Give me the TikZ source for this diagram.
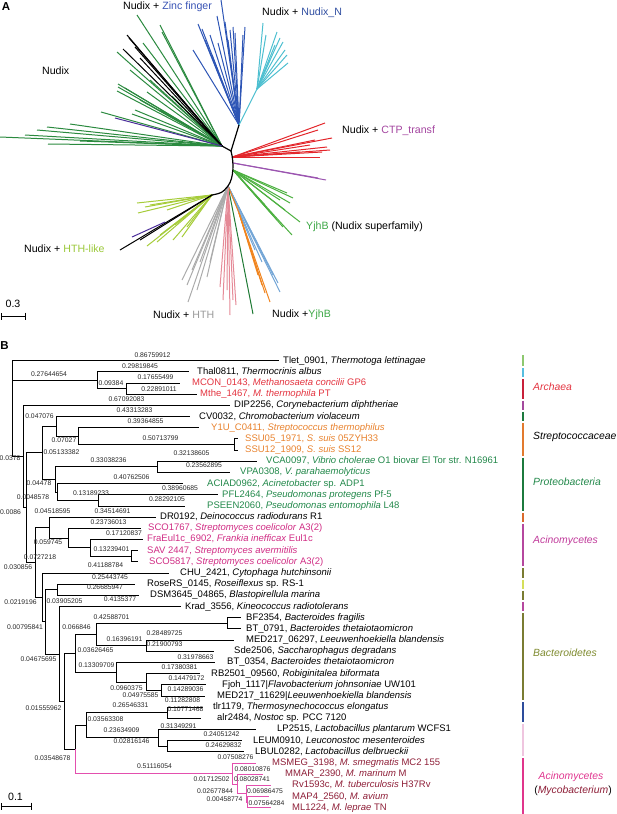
\documentclass[tikz,border=0pt]{standalone}
\usepackage{fontspec}
\setmainfont{Liberation Sans}
\usetikzlibrary{arrows.meta}

% panel A colours
\definecolor{nudgreen}{HTML}{2B8A3F}
\definecolor{zincblue}{HTML}{2D55B5}
\definecolor{nncyan}{HTML}{4DBFD0}
\definecolor{ctpred}{HTML}{E3262B}
\definecolor{ctpviolet}{HTML}{9B55B0}
\definecolor{yjhgreen}{HTML}{4CB040}
\definecolor{steelb}{HTML}{74A6D6}
\definecolor{hthor}{HTML}{F0841E}
\definecolor{hthpink}{HTML}{E58A97}
\definecolor{hthgray}{HTML}{ABABAB}
\definecolor{hthlime}{HTML}{A6CC3A}
\definecolor{hthdkgreen}{HTML}{1E7A34}
\definecolor{darkviol}{HTML}{4B2D9A}
\definecolor{zinctext}{HTML}{3752B4}
\definecolor{nntext}{HTML}{2F4DA0}
\definecolor{ctptext}{HTML}{A3449F}
\definecolor{yjhtext}{HTML}{3DA846}
\definecolor{limetext}{HTML}{9BC83A}
\definecolor{graytext}{HTML}{9A9A9A}
% panel B colours
\definecolor{archred}{HTML}{E3333F}
\definecolor{strepor}{HTML}{E8822E}
\definecolor{protgr}{HTML}{22884A}
\definecolor{acimag}{HTML}{D02C84}
\definecolor{mycored}{HTML}{8E1F38}
\definecolor{mycopink}{HTML}{E34FAE}
\definecolor{tletgreen}{HTML}{8DC86F}
\definecolor{thalblue}{HTML}{56BEE0}
\definecolor{archbar}{HTML}{C8203A}
\definecolor{dipviolet}{HTML}{A3499D}
\definecolor{protbar}{HTML}{1C7A3E}
\definecolor{strepbar}{HTML}{E27A2E}
\definecolor{drbar}{HTML}{DA6A2C}
\definecolor{acinobar}{HTML}{B5479E}
\definecolor{olivebar}{HTML}{7A7C32}
\definecolor{rosebar}{HTML}{D5DF5A}
\definecolor{tlrbar}{HTML}{2D4C9C}
\definecolor{lactobar}{HTML}{EFC5DF}
\definecolor{mycobar}{HTML}{E0358B}
\definecolor{bactolive}{HTML}{7E8A2E}
\definecolor{acinotext}{HTML}{C0399A}
\definecolor{mycotext}{HTML}{E0358F}

\begin{document}
\begin{tikzpicture}[x = 1pt, y = -1pt]

\tikzset{
  branch/.style = {line width = 0.9pt, draw = black},
  mycobranch/.style = {line width = 0.9pt, draw = mycopink},
  fan/.style = {line width = 1pt},
  spine/.style = {line width = 1.2pt, draw = black},
  blen/.style = {font = \fontsize{6.8}{7}\selectfont, inner sep = 0pt, text = black!85},
  leaf/.style = {font = \fontsize{9.5}{10}\selectfont, anchor = west, inner sep = 0pt, text height = 6.8pt, text depth = 1.9pt},
  group/.style = {font = \fontsize{10.4}{11}\selectfont\itshape, anchor = west, inner sep = 0pt},
  clade/.style = {font = \fontsize{10.6}{12}\selectfont, anchor = west, inner sep = 0pt},
  panel/.style = {font = \fontsize{11.5}{12}\selectfont\bfseries, inner sep = 0pt},
  cladebar/.style = {line width = 2.6pt},
  scalebar/.style = {line width = 1pt, {Bar[width = 7pt]}-{Bar[width = 7pt]}},
}

\useasboundingbox (0,0) rectangle (617,814);

% Panel A
\node[panel] (panelA) at (6,7) {A};

\coordinate (hubN) at (222,146);
\coordinate (hubC) at (231,151);
\coordinate (hubZ) at (239,125);
\coordinate (hubNN) at (257,89);
\coordinate (hubR) at (232.5,157);
\coordinate (hubV) at (233,163);
\coordinate (hubY) at (233,170);
\coordinate (hubS) at (228,186);
\coordinate (hubO) at (239,213);
\coordinate (hubL) at (212,195);

\foreach \x/\y in {0/137, 25/135, 37/130, 47/127, 70/124, 48/144, 80/141, 101/112, 118/87, 117/91, 147/92, 135/110, 132/114, 137/15, 160/25, 162/32, 143/43, 117/52, 130/70, 150/80, 140/100, 160/110, 172/96, 118/84, 125/88}
  \draw[fan, nudgreen] (hubN) -- (\x,\y);
\foreach \x/\y in {127/35, 123/49, 129/38, 140/58, 135/47}
  \draw[fan, black] (hubN) -- (\x,\y);
\draw[fan, darkviol] (hubN) -- (115,118);
\foreach \x/\y in {221/0, 217/16, 198/24, 202/29, 193/50, 233/27, 245/27, 235/33, 218/43, 210/35, 225/22, 228/40, 205/40, 212/55, 243/35, 230/30}
  \draw[fan, zincblue] (hubZ) -- (\x,\y);
\draw[fan, nncyan] (hubZ) -- (hubNN);
\foreach \x/\y in {263/23, 277/32, 280/38, 283/42, 287/55, 288/63, 275/45, 270/60, 285/50, 266/35}
  \draw[fan, nncyan] (hubNN) -- (\x,\y);
\foreach \x/\y in {325/123, 332/138, 327/147, 320/157, 300/152, 315/140, 330/150, 318/130, 310/145, 322/152}
  \draw[fan, ctpred] (hubR) -- (\x,\y);
\foreach \x/\y in {326/180, 318/178}
  \draw[fan, ctpviolet] (hubV) -- (\x,\y);
\foreach \x/\y in {287/193, 293/198, 290/203, 292/235, 283/227, 277/220, 300/222, 285/210, 270/212, 280/200, 265/205}
  \draw[fan, yjhgreen] (hubY) -- (\x,\y);
\foreach \x/\y in {280/292, 278/283, 273/275, 268/265, 262/262, 255/250}
  \draw[fan, steelb] (hubS) -- (\x,\y);
\draw[fan, hthor] (hubS) -- (hubO);
\foreach \x/\y in {270/302, 265/293, 262/285, 258/275}
  \draw[fan, hthor] (hubO) -- (\x,\y);
\draw[fan, hthdkgreen] (hubS) -- (253,314);
\foreach \x/\y in {230/315, 223/300, 233/300, 236/305, 227/290, 220/287}
  \draw[fan, hthpink] (hubS) -- (\x,\y);
\foreach \x/\y in {182/280, 187/285, 188/302, 197/290, 207/277, 210/262, 200/262, 192/270}
  \draw[fan, hthgray] (hubS) -- (\x,\y);
\foreach \x/\y in {137/203, 138/213, 167/210, 147/246, 157/242, 173/240, 182/237, 187/227, 150/205, 160/235, 175/225, 145/207}
  \draw[fan, hthlime] (hubL) -- (\x,\y);
\foreach \x/\y in {120/250, 140/240}
  \draw[fan, black] (hubL) -- (\x,\y);
\draw[fan, darkviol] (165,222) -- (132,237);

% backbone
\draw[spine] (hubN) -- (hubC) -- (hubZ);
\draw[spine] (hubC) .. controls (234,162) and (234,178) .. (hubS) .. controls (222,193) .. (hubL);

\node[clade] (labNudix) at (42,71) {Nudix};
\node[clade] (labZinc) at (123,7) {Nudix + \textcolor{zinctext}{Zinc finger}};
\node[clade] (labNN) at (262,13) {Nudix + \textcolor{nntext}{Nudix\_N}};
\node[clade] (labCTP) at (342,131) {Nudix + \textcolor{ctptext}{CTP\_transf}};
\node[clade] (labYjhB) at (306,227) {\textcolor{yjhtext}{YjhB} (Nudix superfamily)};
\node[clade] (labHTHL) at (24,249) {Nudix + \textcolor{limetext}{HTH-like}};
\node[clade] (labHTH) at (153,315) {Nudix + \textcolor{graytext}{HTH}};
\node[clade] (labYjhB2) at (272,315) {Nudix +\textcolor{yjhtext}{YjhB}};

\coordinate (sa1) at (0.5,316);
\coordinate (sa2) at (26,316);
\draw[scalebar] (sa1) -- (sa2);
\node[clade, anchor = center] (scaleA) at (13,304) {0.3};

% Panel B
\node[panel] (panelB) at (4.5,346) {B};

% tree nodes
\foreach \n/\x/\y in {R/12/360.7, T1/97.15/380.3, T2/126.05/388.65, N1/23.6/456.55, N2/26.3/507.7,
  X1/42.1/452.9, C1/56.6/426.35, S1/78.2/436.1, S2/234.4/444.5, P/55.9/479.45, V/157.7/466.9,
  Q/57.4/492.0, R2/98.0/500.4, Y/35.8/562.55, X2/49.7/527.65, Ac/68.1/538.1, Ac2/90.5/547.9,
  Ac3/131.3/556.3, Yb/42.55/597.45, Yc/45.0/621.9, RD/57.0/589.8, n5/59.4/654.0, n6/64.2/701.4,
  B/75.4/653.4, B1/96.0/634.5, BB/227.2/623.3, MS/146.5/645.7, B2/116.4/672.25, B4/146.0/682.0,
  B5/161.3/690.4, M0/75.1/749.4, TL/86.1/725.3, TA/167.9/712.75, Lac/158.9/737.9, LL/167.6/746.3,
  My0/232.5/773.5, My1/237.8/784.0, My2/246.1/793.8, My3/247.5/802.15}
  \coordinate (\n) at (\x,\y);

% leaf ends
\foreach \n/\x/\y in {Tlet/279.2/360.7, Thal/189.0/371.9, MCON/180.4/383.1, Mthe/196.6/394.2,
  DIP/230.2/405.4, CV/190.0/416.6, Y1U/199.4/427.7, SSUa/238/438.9, SSUb/238/450.1,
  VCA/256.7/461.3, VPA/230.3/472.5, ACIAD/183.0/483.6, PFL/218.0/494.8, PSEEN/185.1/506.0,
  DR/156.0/517.2, SCOa/141.2/528.3, Fra/143.2/539.5, SAV/137.5/550.7, SCOb/137.5/561.9,
  CHU/169.4/573.0, Rose/135.4/584.2, DSM/139.2/595.4, Krad/181.0/606.6, BF/241/617.7,
  BTa/241/628.9, MEDa/234.2/640.1, Sde/214.0/651.3, BTb/214.9/662.5, RB/199.5/673.6,
  Fjoh/205.9/684.8, MEDb/205.3/696.0, tlr/202.6/707.2, alr/201.1/718.3, LP/255.5/729.5,
  LEUM/241.7/740.7, LBUL/243.5/751.9, MSMEG/255.6/763.0, MMAR/262.5/774.2, Rv/270.8/785.4,
  MAP4/269.0/796.6, ML/270.8/807.7}
  \coordinate (\n) at (\x,\y);

% branches
\foreach \a/\b in {R/Tlet, R/T1, R/N1, T1/Thal, T1/T2, T2/MCON, T2/Mthe, N1/DIP, N1/N2,
  N2/X1, N2/Y, X1/C1, X1/P, C1/CV, C1/S1, S1/Y1U, S1/S2, S2/SSUa, S2/SSUb,
  P/V, P/Q, V/VCA, V/VPA, Q/ACIAD, Q/R2, R2/PFL, R2/PSEEN,
  Y/X2, Y/Yb, X2/DR, X2/Ac, Ac/SCOa, Ac/Ac2, Ac2/Fra, Ac2/Ac3, Ac3/SAV, Ac3/SCOb,
  Yb/CHU, Yb/Yc, Yc/RD, Yc/n5, RD/Rose, RD/DSM, n5/Krad, n5/n6, n6/B, n6/M0,
  B/B1, B/B2, B1/BB, B1/MS, BB/BF, BB/BTa, MS/MEDa, MS/Sde,
  B2/BTb, B2/B4, B4/RB, B4/B5, B5/Fjoh, B5/MEDb,
  M0/TL, TL/TA, TL/Lac, TA/tlr, TA/alr, Lac/LP, Lac/LL, LL/LEUM, LL/LBUL}
  \draw[branch] (\a) |- (\b);
\foreach \a/\b in {M0/My0, My0/MSMEG, My0/My1, My1/MMAR, My1/My2, My2/Rv, My2/My3, My3/MAP4, My3/ML}
  \draw[mycobranch] (\a) |- (\b);

% branch lengths
\foreach \x/\y/\t [count = \i] in {152.5/355/0.86759912, 140/366/0.29819845, 49/374/0.27644654,
  155.5/377/0.17655499, 111/383/0.09384, 159/389/0.22891011, 126.5/399/0.67092083,
  134.5/410/0.43313283, 39.5/416/0.047076, 145.5/421/0.39364855, 64/440/0.07027,
  160.5/438/0.50713799, 61.5/452/0.05133382, 10/458/0.0378, 108.5/460/0.33038236,
  191.5/453/0.32138605, 204/465/0.23562895, 131.5/477/0.40762506, 39/483/0.04478,
  180/488/0.38960685, 91/493/0.13189233, 33/497/0.0048578, 167/499/0.28292105,
  10.5/512/0.0086, 52.5/511/0.04518595, 112.5/511/0.34514691, 108.5/522/0.23736013,
  124/533/0.17120837, 48/542/0.059745, 111.5/549/0.13239401, 40/557/0.0727218,
  18/567/0.030856, 105.5/565/0.41188784, 110/577/0.25443745, 105/587/0.26685947,
  20.5/602/0.0219196, 64.5/601/0.03905205, 120/599/0.4135377, 111.5/617/0.42588701,
  76.5/627/0.066846, 25/627/0.00795841, 164.5/633/0.28489725, 124.5/639/0.16396191,
  164.5/644/0.21900793, 95.5/650/0.03626465, 195.5/657/0.31978663, 38.5/659/0.04675695,
  96.5/665/0.13309709, 179.5/667/0.17380381, 186.5/678/0.14479172, 126.5/688/0.0960375,
  185.5/689/0.14289036, 140.5/695/0.04975585, 182.5/700/0.11282808, 130.5/705/0.26546331,
  43.5/708/0.01555962, 185.5/709/0.10771468, 105.5/719/0.03563308, 178.5/726/0.31349291,
  121.5/730/0.23634909, 221.5/734/0.24051242, 131.5/741/0.02816146, 223.5/745/0.24629832,
  52.5/758/0.03548678, 235.5/757/0.07508276, 154.5/766/0.51116054, 252.5/769/0.08010876,
  211.5/779/0.01712502, 252/779/0.08028741, 215/791/0.02677844, 265/791/0.06986475,
  224.5/799/0.00458774, 266.5/803/0.07564284}
  \node[blen] (len\i) at (\x,\y) {\t};

% leaf labels
\foreach \x/\y/\c/\t [count = \i] in {
  283/360.7/black/{Tlet\_0901, \textit{Thermotoga lettinagae}},
  197/371.9/black/{Thal0811, \textit{Thermocrinis albus}},
  192/383.1/archred/{MCON\_0143, \textit{Methanosaeta concilii} GP6},
  200/394.2/archred/{Mthe\_1467, \textit{M. thermophila} PT},
  234/405.4/black/{DIP2256, \textit{Corynebacterium diphtheriae}},
  199/416.6/black/{CV0032, \textit{Chromobacterium violaceum}},
  211/427.7/strepor/{Y1U\_C0411, \textit{Streptococcus thermophilus}},
  245/438.9/strepor/{SSU05\_1971, \textit{S. suis} 05ZYH33},
  245/450.1/strepor/{SSU12\_1909, \textit{S. suis} SS12},
  266/461.3/protgr/{VCA0097, \textit{Vibrio cholerae} O1 biovar El Tor str. N16961},
  240/472.5/protgr/{VPA0308, \textit{V. parahaemolyticus}},
  207/483.6/protgr/{ACIAD0962, \textit{Acinetobacter} sp. ADP1},
  222/494.8/protgr/{PFL2464, \textit{Pseudomonas protegens} Pf-5},
  207/506.0/protgr/{PSEEN2060, \textit{Pseudomonas entomophila} L48},
  160/517.2/black/{DR0192, \textit{Deinococcus radiodurans} R1},
  148/528.3/acimag/{SCO1767, \textit{Streptomyces coelicolor} A3(2)},
  147/539.5/acimag/{FraEul1c\_6902, \textit{Frankia inefficax} Eul1c},
  147/550.7/acimag/{SAV 2447, \textit{Streptomyces avermitilis}},
  149/561.9/acimag/{SCO5817, \textit{Streptomyces coelicolor} A3(2)},
  180/573.0/black/{CHU\_2421, \textit{Cytophaga hutchinsonii}},
  147/584.2/black/{RoseRS\_0145, \textit{Roseiflexus} sp. RS-1},
  150/595.4/black/{DSM3645\_04865, \textit{Blastopirellula marina}},
  185/606.6/black/{Krad\_3556, \textit{Kineococcus radiotolerans}},
  246/617.7/black/{BF2354, \textit{Bacteroides fragilis}},
  246/628.9/black/{BT\_0791, \textit{Bacteroides thetaiotaomicron}},
  246/640.1/black/{MED217\_06297, \textit{Leeuwenhoekiella blandensis}},
  234/651.3/black/{Sde2506, \textit{Saccharophagus degradans}},
  227/662.5/black/{BT\_0354, \textit{Bacteroides thetaiotaomicron}},
  211/673.6/black/{RB2501\_09560, \textit{Robiginitalea biformata}},
  222/684.8/black/{Fjoh\_1117|\textit{Flavobacterium johnsoniae} UW101},
  217/696.0/black/{MED217\_11629|\textit{Leeuwenhoekiella blandensis}},
  213/707.2/black/{tlr1179, \textit{Thermosynechococcus elongatus}},
  217/718.3/black/{alr2484, \textit{Nostoc} sp. PCC 7120},
  277/729.5/black/{LP2515, \textit{Lactobacillus plantarum} WCFS1},
  253/740.7/black/{LEUM0910, \textit{Leuconostoc mesenteroides}},
  255/751.9/black/{LBUL0282, \textit{Lactobacillus delbrueckii}},
  272/763.0/mycored/{MSMEG\_3198, \textit{M. smegmatis} MC2 155},
  285/774.2/mycored/{MMAR\_2390, \textit{M. marinum} M},
  292/785.4/mycored/{Rv1593c, \textit{M. tuberculosis} H37Rv},
  292/796.6/mycored/{MAP4\_2560, \textit{M. avium}},
  292/807.7/mycored/{ML1224, \textit{M. leprae} TN}}
  \node[leaf, text = \c] (tip\i) at (\x,\y) {\t};

% clade bars
\foreach \a/\b/\c in {355/366/tletgreen, 368/377/thalblue, 379/399/archbar, 400.5/410/dipviolet,
  411.5/421/protbar, 423/456/strepbar, 457.5/511/protbar, 513/522/drbar, 524/566/acinobar,
  568/578/olivebar, 579.5/589/rosebar, 590.5/600/olivebar, 601.5/611/acinobar,
  613/700/olivebar, 702/722/tlrbar, 724/756/lactobar, 758/814/mycobar}
  \draw[cladebar, draw = \c] (523,\a) -- (523,\b);

\node[group, text = archred] (grpArch) at (533,387) {Archaea};
\node[group] (grpStrep) at (533,437) {Streptococcaceae};
\node[group, text = protgr] (grpProt) at (533,482) {Proteobacteria};
\node[group, text = acinotext] (grpAcino) at (533,541) {Acinomycetes};
\node[group, text = bactolive] (grpBact) at (533,653) {Bacteroidetes};
\node[group, text = mycotext, anchor = center] (grpMyco) at (571,777) {Acinomycetes};
\node[font = \fontsize{10.4}{11}\selectfont, inner sep = 0pt] (grpMyco2) at (573,791) {(\textcolor{mycored}{\textit{Mycobacterium}})};

\coordinate (sb1) at (0.5,806);
\coordinate (sb2) at (31.5,806);
\draw[scalebar] (sb1) -- (sb2);
\node[clade, anchor = center] (scaleB) at (15.5,797) {0.1};

\end{tikzpicture}
\end{document}
